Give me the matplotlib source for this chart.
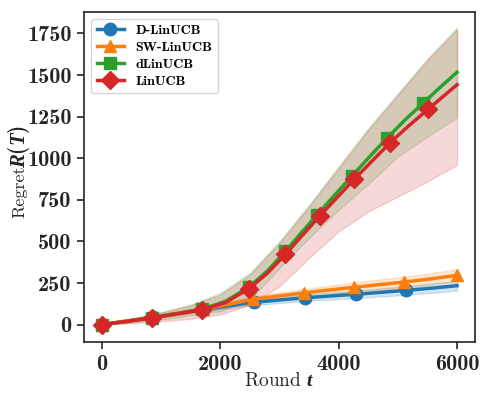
import matplotlib
matplotlib.use("Agg")
import matplotlib.pyplot as plt

plt.rcParams['mathtext.fontset'] = 'custom'
plt.rcParams['mathtext.it'] = 'Liberation Serif:italic:bold'
plt.rcParams['mathtext.rm'] = 'cmb10'
plt.rcParams['mathtext.bf'] = 'cmb10'
plt.rcParams['axes.unicode_minus'] = False

# ---------------- data ----------------
d_linucb_t = [0, 430, 857, 1290, 1714, 2140, 2571, 3000, 3428, 3860, 4285, 4710, 5142, 5570, 6000]
d_linucb = [0, 22, 44, 68, 91, 113, 134, 148, 161, 172, 182, 194, 206, 219, 234]

sw_linucb_t = [0, 430, 855, 1280, 1705, 2120, 2546, 2980, 3422, 3840, 4255, 4680, 5110, 5540, 6000]
sw_linucb = [0, 22, 44, 68, 94, 120, 152, 172, 191, 208, 224, 240, 256, 274, 296]

dlinucb_t = [0, 420, 843, 1270, 1697, 2090, 2483, 2790, 3101, 3370, 3636, 3930, 4225, 4520,
             4815, 5120, 5422, 5710, 6000]
dlinucb = [0, 19, 41, 66, 93, 140, 225, 320, 440, 552, 660, 777, 893, 1008,
           1120, 1230, 1330, 1425, 1517]

linucb_t = [0, 420, 843, 1270, 1697, 2090, 2483, 2790, 3101, 3390, 3680, 3970, 4264, 4570,
            4871, 5190, 5517, 5760, 6000]
linucb = [0, 19, 40, 64, 89, 133, 215, 307, 422, 538, 652, 763, 873, 985,
          1094, 1197, 1296, 1370, 1442]

t_band = [0, 500, 1000, 1500, 2000, 2500, 3000, 3500, 4000, 4500, 5000, 5500, 6000]
d_linucb_lo = [0, 22, 44, 69, 92, 114, 130, 143, 153, 164, 176, 189, 204]
d_linucb_hi = [0, 30, 60, 91, 120, 146, 166, 183, 197, 212, 228, 245, 264]
sw_linucb_lo = [0, 22, 45, 70, 97, 130, 152, 170, 187, 204, 220, 238, 260]
sw_linucb_hi = [0, 30, 61, 94, 127, 166, 194, 218, 241, 264, 284, 306, 332]
dlinucb_lo = [0, 12, 30, 55, 80, 150, 340, 520, 690, 845, 1010, 1130, 1245]
dlinucb_hi = [0, 35, 75, 120, 190, 310, 500, 720, 950, 1180, 1390, 1600, 1785]
linucb_lo = [0, 8, 20, 35, 60, 120, 230, 400, 560, 680, 770, 860, 960]
linucb_hi = [0, 33, 72, 115, 180, 300, 490, 710, 940, 1170, 1380, 1590, 1775]

labels = ['D-LinUCB', 'SW-LinUCB', 'dLinUCB', 'LinUCB']
colors = ['#1f77b4', '#ff7f0e', '#2ca02c', '#d62728']
markers = ['o', '^', 's', 'D']

x_ticks = [0, 2000, 4000, 6000]
y_ticks = [0, 250, 500, 750, 1000, 1250, 1500, 1750]

ts = [d_linucb_t, sw_linucb_t, dlinucb_t, linucb_t]
means = [d_linucb, sw_linucb, dlinucb, linucb]
los = [d_linucb_lo, sw_linucb_lo, dlinucb_lo, linucb_lo]
his = [d_linucb_hi, sw_linucb_hi, dlinucb_hi, linucb_hi]

# ---------------- figure ----------------
fig = plt.figure(figsize=(4.87, 3.95), dpi=100)
ax = fig.add_axes([0.1725, 0.134, 0.8025, 0.836])

for tt, m, lo, hi, lab, c, mk in zip(ts, means, los, his, labels, colors, markers):
    ax.plot(tt, m, color=c, marker=mk, lw=2.5, ms=9, markevery=0.1, label=lab, zorder=3)
    ax.fill_between(t_band, lo, hi, color=c, alpha=0.18, lw=1, zorder=2)

ax.set_xlim(-300, 6300)
ax.set_ylim(-105, 1880)
ax.set_xticks(x_ticks)
ax.set_yticks(y_ticks)
ax.set_xticklabels([str(v) for v in x_ticks])
ax.set_yticklabels([str(v) for v in y_ticks])
ax.tick_params(axis='both', direction='out', length=5, width=1.2, color='.15',
               labelsize=16, labelcolor='.15', labelfontfamily='cmb10', pad=4)
for s in ax.spines.values():
    s.set_color('.15')
    s.set_linewidth(1.2)

ax.set_xlabel(r'Round $t$', fontfamily='cmr10', fontsize=14, color='.15', labelpad=-1)

fig.text(0.050, 0.514, 'Regret', rotation=90, rotation_mode='anchor', ha='center',
         va='baseline', fontfamily='cmr10', fontsize=13, color='.15')
fig.text(0.051, 0.629, r'$R(T)$', rotation=90, rotation_mode='anchor', ha='center',
         va='baseline', fontfamily='cmr10', fontsize=15, color='.15')

leg = ax.legend(loc='upper left', prop={'family': 'cmb10', 'size': 10},
                numpoints=1, frameon=True, borderaxespad=0.5, labelspacing=0.3)
leg.get_frame().set_edgecolor('0.8')

fig.savefig('out.png', dpi=100)
